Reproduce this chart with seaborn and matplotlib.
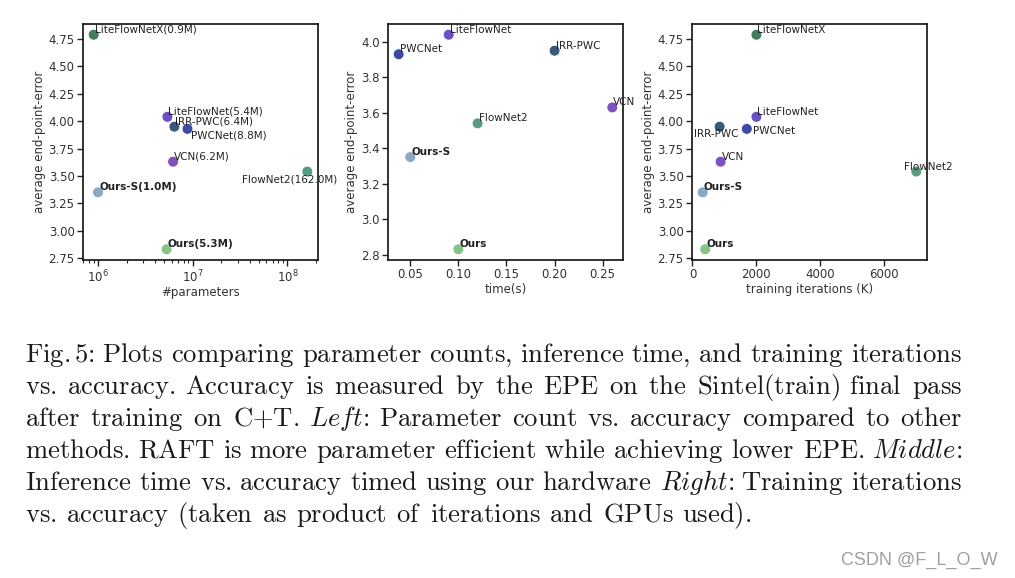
import matplotlib
matplotlib.use('Agg')
import pandas as pd
import matplotlib.pyplot as plt
import seaborn as sns

sns.set_theme(style='ticks')
plt.rcParams['font.family'] = ['DejaVu Sans']
plt.rcParams['mathtext.fontset'] = 'cm'

# --- data ---
methods = ['LiteFlowNetX', 'LiteFlowNet', 'IRR-PWC', 'PWCNet', 'VCN', 'FlowNet2', 'Ours-S', 'Ours']
epe = [4.79, 4.04, 3.95, 3.93, 3.63, 3.54, 3.35, 2.83]
params = [0.9e6, 5.4e6, 6.4e6, 8.8e6, 6.2e6, 162.0e6, 1.0e6, 5.3e6]
param_labels = ['LiteFlowNetX(0.9M)', 'LiteFlowNet(5.4M)', 'IRR-PWC(6.4M)', 'PWCNet(8.8M)',
                'VCN(6.2M)', 'FlowNet2(162.0M)', 'Ours-S(1.0M)', 'Ours(5.3M)']
time_methods = ['LiteFlowNet', 'IRR-PWC', 'PWCNet', 'VCN', 'FlowNet2', 'Ours-S', 'Ours']
time_s = [0.09, 0.20, 0.038, 0.26, 0.12, 0.05, 0.10]
time_epe = [4.04, 3.95, 3.93, 3.63, 3.54, 3.35, 2.83]
iters_k = [2000, 2000, 850, 1700, 880, 7000, 320, 400]

colors = {'LiteFlowNetX': '#3f7f60', 'LiteFlowNet': '#6b4fc4', 'IRR-PWC': '#3a5878',
          'PWCNet': '#3c4aa6', 'VCN': '#7e50c0', 'FlowNet2': '#5a9a80',
          'Ours-S': '#8aa8c2', 'Ours': '#84c484'}

df_params = pd.DataFrame({'method': methods, 'params': params, 'epe': epe, 'label': param_labels})
df_time = pd.DataFrame({'method': time_methods, 'time': time_s, 'epe': time_epe})
df_iters = pd.DataFrame({'method': methods, 'iters': iters_k, 'epe': epe})

# label offsets in pixels (dx, dy, ha, va); default sits just above-right of the point
default_off = (1, 0, 'left', 'bottom')
offs_params = {'PWCNet': (4, -2, 'left', 'top'), 'FlowNet2': (-65, -3, 'left', 'top')}
offs_time = {}
offs_iters = {'IRR-PWC': (-26, -2, 'left', 'top'), 'PWCNet': (6, -2, 'left', 'center'),
              'FlowNet2': (-12, 0, 'left', 'bottom')}

W, H = 1015, 578
fig = plt.figure(figsize=(W / 100, H / 100), dpi=100)
fig.patch.set_facecolor('white')


def panel(left_px, data, xcol, xlabel, offs, labels=None, logx=False):
    ax = fig.add_axes([left_px / W, 1 - 260 / H, 235 / W, 236 / H])
    sns.scatterplot(data=data, x=xcol, y='epe', hue='method', palette=colors,
                    s=60, edgecolor='white', linewidth=0.5, legend=False, ax=ax, zorder=3)
    if logx:
        ax.set_xscale('log')
    for i, row in data.reset_index(drop=True).iterrows():
        dx, dy, ha, va = offs.get(row['method'], default_off)
        txt = labels[i] if labels is not None else row['method']
        bold = row['method'].startswith('Ours')
        ax.annotate(txt, (row[xcol], row['epe']), xytext=(dx * 0.72, dy * 0.72),
                    textcoords='offset points', ha=ha, va=va, fontsize=7.5,
                    fontweight='bold' if bold else 'normal', color='#222222',
                    annotation_clip=False, zorder=4)
    ax.set_xlabel(xlabel, fontsize=8.5, labelpad=1, color='#333333')
    ax.set_ylabel('average end-point-error', fontsize=8.5, labelpad=2, color='#333333')
    ax.tick_params(labelsize=8.5, length=4, width=1, pad=2, colors='#222222', labelcolor='#333333')
    ax.tick_params(which='minor', length=2.5, width=0.8)
    for sp in ax.spines.values():
        sp.set_linewidth(1.2)
        sp.set_color('#111111')
    return ax


ax1 = panel(83, df_params, 'params', '#parameters', offs_params, labels=param_labels, logx=True)
ax2 = panel(388, df_time, 'time', 'time(s)', offs_time)
ax3 = panel(692, df_iters, 'iters', 'training iterations (K)', offs_iters)
ax3.set_xticks([0, 2000, 4000, 6000])
ax3.set_yticks([2.75, 3.0, 3.25, 3.5, 3.75, 4.0, 4.25, 4.5, 4.75])
ax1.set_yticks([2.75, 3.0, 3.25, 3.5, 3.75, 4.0, 4.25, 4.5, 4.75])

# --- caption, justified line by line ---
caption_lines = [
    r'Fig.$\,$5: Plots comparing parameter counts, inference time, and training iterations',
    'vs. accuracy. Accuracy is measured by the EPE on the Sintel(train) final pass',
    r'after training on C+T. $\mathit{Left}$: Parameter count vs. accuracy compared to other',
    r'methods. RAFT is more parameter efficient while achieving lower EPE. $\mathit{Middle}$:',
    r'Inference time vs. accuracy timed using our hardware $\mathit{Right}$: Training iterations',
    'vs. accuracy (taken as product of iterations and GPUs used).',
]
cap_left, cap_right, base0, step = 25, 962, 362, 32
renderer = fig.canvas.get_renderer()
for i, line in enumerate(caption_lines):
    # every word goes through mathtext (an empty group is enough) so baselines line up
    words = [w if '$' in w else w + r'${}$' for w in line.split(' ')]
    y = 1 - (base0 + step * i) / H
    texts = [fig.text(0, y, w, fontsize=19.2, family='cmr10', va='baseline', color='#1a1a1a')
             for w in words]
    widths = [t.get_window_extent(renderer).width for t in texts]
    if i < len(caption_lines) - 1:
        gap = (cap_right - cap_left - sum(widths)) / (len(words) - 1)
    else:
        gap = 8.9
    x = cap_left
    for t, w in zip(texts, widths):
        t.set_x(x / W)
        x += w + gap

fig.text(998 / W, 1 - 565 / H, 'CSDN @F_L_O_W', fontsize=13, family='Liberation Sans',
         color='#a0a0a0', ha='right', va='baseline')

fig.savefig('out.png', dpi=100)
